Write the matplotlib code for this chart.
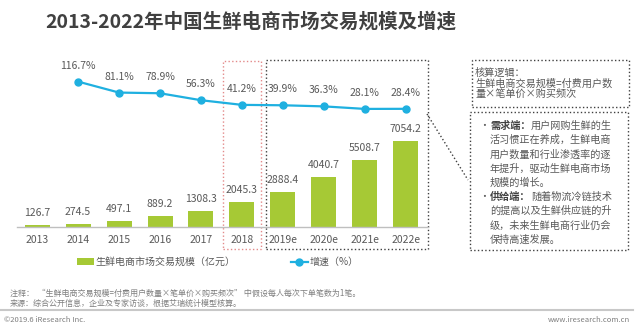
import matplotlib.pyplot as plt
import matplotlib.transforms as mtransforms
from matplotlib.patches import Rectangle
from matplotlib.lines import Line2D
import numpy as np

plt.rcParams['font.family'] = ['Noto Sans CJK SC', 'DejaVu Sans']

# data
years = ['2013', '2014', '2015', '2016', '2017', '2018', '2019e', '2020e', '2021e', '2022e']
scale = [126.7, 274.5, 497.1, 889.2, 1308.3, 2045.3, 2888.4, 4040.7, 5508.7, 7054.2]
growth_years = ['2014', '2015', '2016', '2017', '2018', '2019e', '2020e', '2021e', '2022e']
growth = [116.7, 81.1, 78.9, 56.3, 41.2, 39.9, 36.3, 28.1, 28.4]

bar_label = '生鲜电商市场交易规模（亿元）'
line_label = '增速（%）'
title = '2013-2022年中国生鲜电商市场交易规模及增速'

box1_lines = ['核算逻辑：', '生鲜电商交易规模=付费用户数', '量×笔单价×购买频次']
box2_lines = [('需求端：', '用户网购生鲜的生'), ('', '活习惯正在养成，生鲜电商'),
              ('', '用户数量和行业渗透率的逐'), ('', '年提升，驱动生鲜电商市场'),
              ('', '规模的增长。'), ('供给端：', '随着物流冷链技术'),
              ('', '的提高以及生鲜供应链的升'), ('', '级，未来生鲜电商行业仍会'),
              ('', '保持高速发展。')]
note1 = '注释：  “生鲜电商交易规模=付费用户数量×笔单价×购买频次” 中假设每人每次下单笔数为1笔。'
note2 = '来源：综合公开信息，企业及专家访谈，根据艾瑞统计模型核算。'

GREEN = '#A6C935'
BLUE = '#1FB0E0'
GREY = '#595959'

W, H = 640, 329
fig = plt.figure(figsize=(6.4, 3.29), dpi=100)

def fx(px):
    return px / W

def fy(py):
    return 1 - py / H

ax = fig.add_axes([fx(17), fy(227), fx(428) - fx(17), fy(55) - fy(227)])
x = np.arange(len(years))
bars = ax.bar(x, scale, width=0.61, color=GREEN, zorder=2)
ax.set_xlim(-0.49, 9.54)
ax.set_ylim(0, 14040)
for xi, v in zip(x, scale):
    ax.annotate(f'{v:.1f}', (xi, v), xytext=(0, 12), textcoords='offset pixels',
                ha='center', va='center', fontsize=7.5, color=GREY)

ax.set_xticks(x)
ax.set_xticklabels(years, fontsize=7.5, color=GREY)
ax.tick_params(axis='x', length=0, pad=6)
ax.set_yticks([])
for s in ['top', 'right', 'left']:
    ax.spines[s].set_visible(False)
ax.spines['bottom'].set_color('#BFBFBF')
ax.spines['bottom'].set_linewidth(1)

ax2 = ax.twinx()
gx = [years.index(y) for y in growth_years]
line, = ax2.plot(gx, growth, color=BLUE, lw=1.6, marker='o', ms=5, zorder=3)
ax2.set_ylim(-355, 203)
ax2.axis('off')
for xi, v in zip(gx, growth):
    ax2.annotate(f'{v:.1f}%', (xi, v), xytext=(0, 16), textcoords='offset pixels',
                 ha='center', va='center', fontsize=7.5, color=GREY)

# highlight boxes
trans = mtransforms.blended_transform_factory(ax.transData, ax.transAxes)
ax.add_patch(Rectangle((4.54, -0.128), 0.92, 1.095, transform=trans, fill=False,
                       ec='#E38A8A', ls=':', lw=1, clip_on=False))
ax.add_patch(Rectangle((5.585, -0.128), 3.965, 1.099, transform=trans, fill=False,
                       ec='#404040', ls=':', lw=1, clip_on=False))
fig.add_artist(Line2D([fx(427), fx(468)], [fy(114), fy(180)], color='#404040', ls=':', lw=1))

# right text boxes
fig.add_artist(Rectangle((fx(472), fy(107)), fx(629) - fx(472), fy(60) - fy(107),
                         fill=False, ec='#404040', ls=':', lw=1))
for i, t in enumerate(box1_lines):
    fig.text(fx(475), fy(73 + 10.5 * i), t, fontsize=7.3, color=GREY, va='center')

fig.add_artist(Rectangle((fx(470), fy(250)), fx(628) - fx(470), fy(112) - fy(250),
                         fill=False, ec='#404040', ls=':', lw=1))
for i, (b, t) in enumerate(box2_lines):
    yy = fy(126 + 14.2 * i)
    xx = fx(490)
    if b:
        fig.text(fx(479), yy, '•', fontsize=7, color=GREY, va='center')
        fig.text(xx, yy, b, fontsize=7.3, color='#404040', weight='bold', va='center')
        xx = fx(531)
    fig.text(xx, yy, t, fontsize=7.3, color=GREY, va='center')

# legend
leg = ax.legend([bars, line], [bar_label, line_label], ncol=2, frameon=False,
                loc='center', bbox_to_anchor=(fx(218), fy(262)),
                bbox_transform=fig.transFigure, fontsize=7.2,
                handlelength=1.7, handletextpad=0.15, columnspacing=5.5)
for t in leg.get_texts():
    t.set_color(GREY)

fig.text(fx(251), fy(22), title, fontsize=14, weight='bold', color='#404040',
         ha='center', va='center')

fig.text(fx(10), fy(293), note1, fontsize=5.8, color='#7F7F7F', va='center')
fig.text(fx(10), fy(303), note2, fontsize=5.8, color='#7F7F7F', va='center')
fig.add_artist(Line2D([0, fx(633)], [fy(309.5), fy(309.5)], color='#C8C8C8', lw=1.5))
fig.text(fx(4), fy(320), '©2019.6 iResearch Inc.', fontsize=5.5, color='#7F7F7F', va='center')
fig.text(fx(630), fy(320), 'www.iresearch.com.cn', fontsize=5.5, color='#7F7F7F',
         va='center', ha='right')

fig.savefig('out.png', dpi=100)
